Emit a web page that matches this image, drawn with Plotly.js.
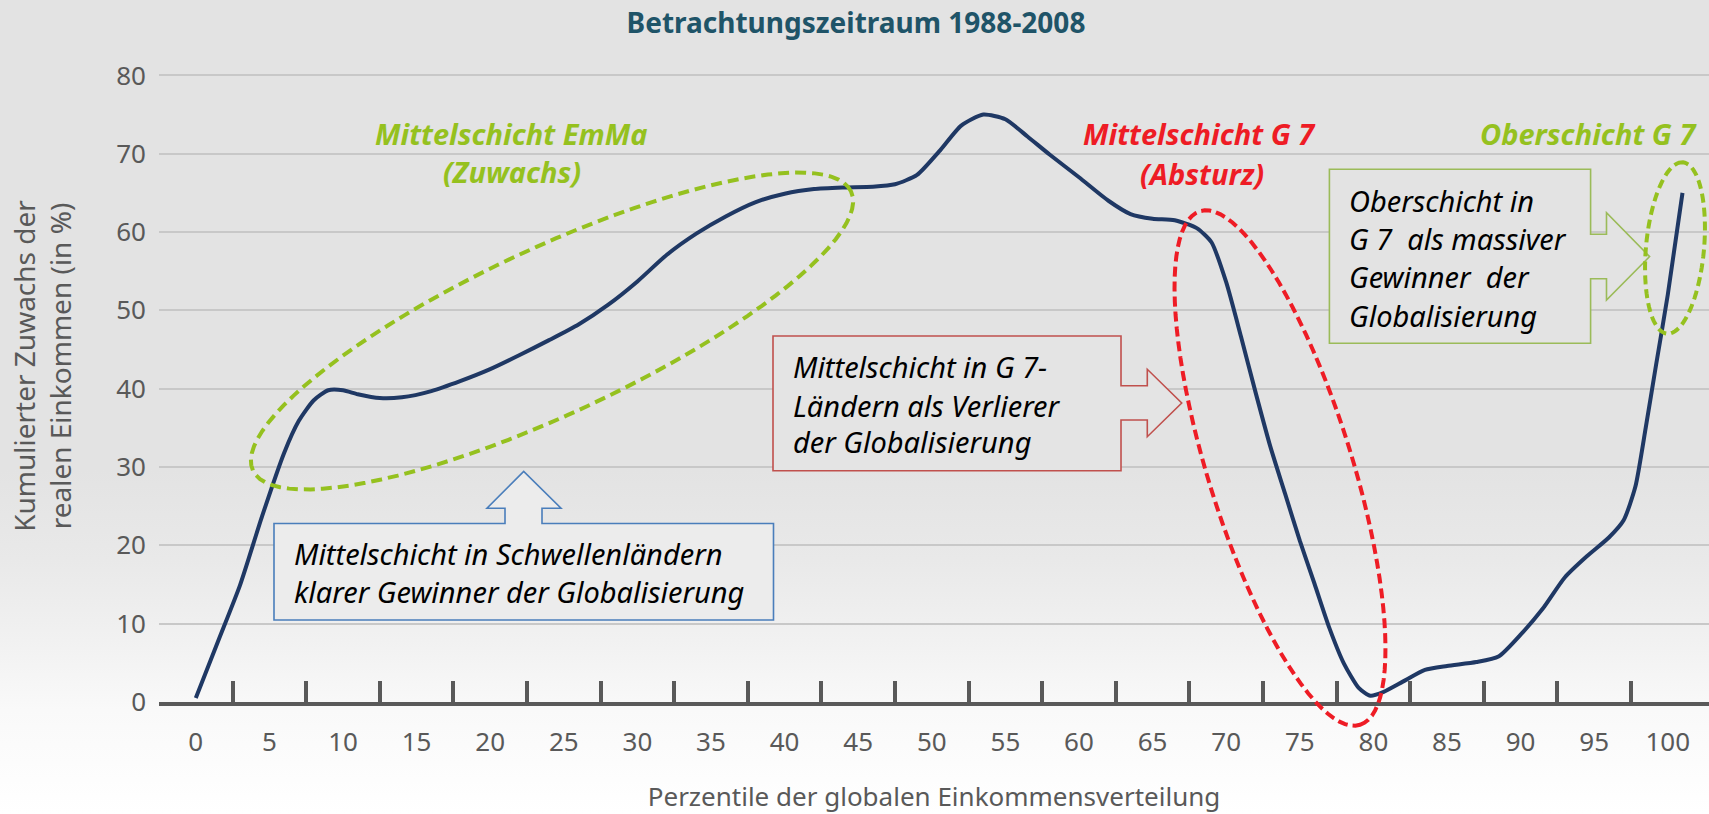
<!DOCTYPE html>
<html><head><meta charset="utf-8">
<script src="https://cdn.plot.ly/plotly-3.0.1.min.js"></script>
<style>
html,body{margin:0;padding:0;}
body{width:1709px;height:814px;overflow:hidden;background:linear-gradient(to bottom,#e3e3e3 0px,#e3e3e3 470px,#e9e9e9 560px,#f1f1f1 640px,#f9f9f9 710px,#ffffff 814px);}
#chart{width:1709px;height:814px;}
</style></head><body><div id="chart"></div><script>
// ---- data ----
const percentile = [0,1.5,3,4.5,6,7,8,9,10,11,12.5,14,16,18,20,22,24,26,28,30,32,34,36,38,40,42,44,46,47.5,49,50.5,52,53.5,55,56.5,58,60,62,63.5,65,66.5,68,69,70,71,72,73,74,75,76,77,78,79,79.8,80.7,82,83.5,85,87,88.5,90,91.5,93,94.5,96,97,97.8,98.5,99.2,100,101];
const growth = [0.5,7.7,14.9,23.7,31.8,35.9,38.5,39.8,39.8,39.3,38.8,38.9,39.7,41.0,42.5,44.3,46.2,48.2,50.7,53.7,57.1,59.8,62.0,63.8,64.9,65.5,65.7,65.8,66.1,67.3,70.3,73.6,75.0,74.4,72.2,69.9,67.0,64.0,62.3,61.7,61.5,60.5,58.7,53.6,46.7,39.5,32.6,26.6,20.6,15.1,9.5,4.9,1.8,0.8,1.3,2.6,4.1,4.6,5.1,5.8,8.6,11.9,15.9,18.6,21.0,23.2,27.5,35.0,43.0,52.0,65.0];
const xTickLabels = [0,5,10,15,20,25,30,35,40,45,50,55,60,65,70,75,80,85,90,95,100];
const xTickMarks = [2.5,7.5,12.5,17.5,22.5,27.5,32.5,37.5,42.5,47.5,52.5,57.5,62.5,67.5,72.5,77.5,82.5,87.5,92.5,97.5];
const yTickLabels = [0,10,20,30,40,50,60,70,80];
const chartTitle = 'Betrachtungszeitraum 1988-2008';
const xTitle = 'Perzentile der globalen Einkommensverteilung';
const yTitle = 'Kumulierter Zuwachs der<br>realen Einkommen (in %)';

// ---- layout geometry ----
const WIDTH = 1709, HEIGHT = 814;
const M = {l:159, r:0, t:30, b:112};
const PW = WIDTH - M.l - M.r, PH = HEIGHT - M.t - M.b;
const px = x => (x - M.l) / PW;
const py = y => (HEIGHT - M.b - y) / PH;
const FONT = 'Noto Sans, Open Sans, sans-serif';
const GREEN = '#95C11F', RED = '#EE1C25', NAVY = '#1F3864', GREY = '#595959';

function ellipse(cx, cy, a, b, deg, color, dash){
  const th = deg*Math.PI/180, N = 96; let d = '';
  for(let i=0;i<=N;i++){
    const t = 2*Math.PI*i/N, ex = a*Math.cos(t), ey = b*Math.sin(t);
    const X = cx + ex*Math.cos(th) - ey*Math.sin(th);
    const Y = cy - (ex*Math.sin(th) + ey*Math.cos(th));
    d += (i===0?'M':'L') + px(X).toFixed(5) + ',' + py(Y).toFixed(5);
  }
  return {type:'path', xref:'paper', yref:'paper', path:d+'Z', layer:'above',
          line:{color:color, width:4, dash:dash}, fillcolor:'rgba(0,0,0,0)'};
}
function callout(pts, color, fill){
  const d = pts.map((p,i)=>(i===0?'M':'L')+px(p[0]).toFixed(5)+','+py(p[1]).toFixed(5)).join('')+'Z';
  return {type:'path', xref:'paper', yref:'paper', path:d, layer:'above',
          line:{color:color, width:1.6}, fillcolor:fill};
}
function txt(text, x, y, font, xanchor){
  return {text:text, xref:'paper', yref:'paper', x:px(x), y:py(y), xanchor:xanchor||'center',
          yanchor:'middle', showarrow:false, font:font, align:'left'};
}

const shapes = [
  callout([[274,523.5],[505,523.5],[505,508.3],[487,508.3],[523.7,471.5],[561,508.3],[542,508.3],[542,523.5],[773.5,523.5],[773.5,620],[274,620]], '#4A7EBB', '#ECECEC'),
  callout([[773,336],[1121,336],[1121,385.7],[1147.3,385.7],[1147.3,369.3],[1181.7,403],[1147.3,436.7],[1147.3,420],[1121,420],[1121,470.7],[773,470.7]], '#C0504D', '#E4E4E4'),
  callout([[1329.4,169.3],[1590.6,169.3],[1590.6,234.2],[1606.5,234.2],[1606.5,212.6],[1649.6,256.6],[1606.5,300],[1606.5,278.7],[1590.6,278.7],[1590.6,343.3],[1329.4,343.3]], '#9BBB59', '#E3E3E3'),
  ellipse(552, 331, 330, 83, 25, GREEN, '11px,6px'),
  ellipse(1280, 468, 269, 72, -72.7, RED, '10px,5px'),
  ellipse(1675, 248, 86, 29, 84.7, GREEN, '9px,5px')
];

const headFont = c => ({family:FONT, size:29, color:c, weight:700, style:'italic'});
const boxFont = {family:FONT, size:29, color:'#000000', style:'italic'};
const annotations = [
  txt('Mittelschicht EmMa', 511, 133.3, headFont(GREEN)),
  txt('(Zuwachs)', 512, 171.7, headFont(GREEN)),
  txt('Mittelschicht G 7', 1199, 133.3, headFont(RED)),
  txt('(Absturz)', 1202, 173.3, headFont(RED)),
  txt('Oberschicht G 7', 1588, 133.3, headFont(GREEN)),
  txt('Mittelschicht in Schwellenländern', 292, 553, boxFont, 'left'),
  txt('klarer Gewinner der Globalisierung', 292, 591.7, boxFont, 'left'),
  txt('Mittelschicht in G 7-', 791.3, 366.7, boxFont, 'left'),
  txt('Ländern als Verlierer', 791.3, 405, boxFont, 'left'),
  txt('der Globalisierung', 791.3, 441.7, boxFont, 'left'),
  txt('Oberschicht in', 1347.3, 200, boxFont, 'left'),
  txt('G 7\u00a0 als massiver', 1347.3, 238.3, boxFont, 'left'),
  txt('Gewinner\u00a0 der', 1347.3, 276.7, boxFont, 'left'),
  txt('Globalisierung', 1347.3, 315, boxFont, 'left')
];

const traces = [
  {type:'scatter', mode:'lines', x:percentile, y:growth, hoverinfo:'skip', showlegend:false,
   line:{color:NAVY, width:4, shape:'spline', smoothing:0.6}},
  {type:'scatter', mode:'lines', x:[null], y:[null], xaxis:'x2', yaxis:'y', hoverinfo:'skip', showlegend:false}
];

const tickFont = {family:FONT, size:26, color:GREY};
const layout = {
  width:WIDTH, height:HEIGHT, margin:M,
  paper_bgcolor:'rgba(0,0,0,0)', plot_bgcolor:'rgba(0,0,0,0)', showlegend:false,
  title:{text:chartTitle, x:856/WIDTH, xanchor:'center', y:1-23/HEIGHT, yanchor:'middle',
         font:{family:FONT, size:28, color:'#1F5468', weight:700}},
  xaxis:{range:[-2.5,102.8], tickmode:'array', tickvals:xTickLabels, ticktext:xTickLabels.map(String),
         ticks:'', showgrid:false, zeroline:false, showline:true, linewidth:4, linecolor:GREY,
         tickfont:tickFont, ticklabelstandoff:14, fixedrange:true,
         title:{text:xTitle, font:{family:FONT, size:26, color:GREY}, standoff:42}},
  xaxis2:{overlaying:'x', anchor:'y', side:'bottom', range:[-2.5,102.8], tickmode:'array', tickvals:xTickMarks,
          ticks:'inside', ticklen:21, tickwidth:4, tickcolor:GREY, showticklabels:false,
          showgrid:false, zeroline:false, showline:false},
  yaxis:{range:[0,85.8], tickmode:'array', tickvals:yTickLabels, ticktext:yTickLabels.map(String),
         ticks:'', showgrid:true, gridcolor:'#C8C8C8', gridwidth:2, zeroline:false, showline:false,
         tickfont:tickFont, ticklabelstandoff:12, fixedrange:true,
         title:{text:yTitle, font:{family:FONT, size:28, color:GREY}, standoff:36}},
  shapes:shapes, annotations:annotations
};
Plotly.newPlot('chart', traces, layout, {staticPlot:true, displayModeBar:false});
</script></body></html>
